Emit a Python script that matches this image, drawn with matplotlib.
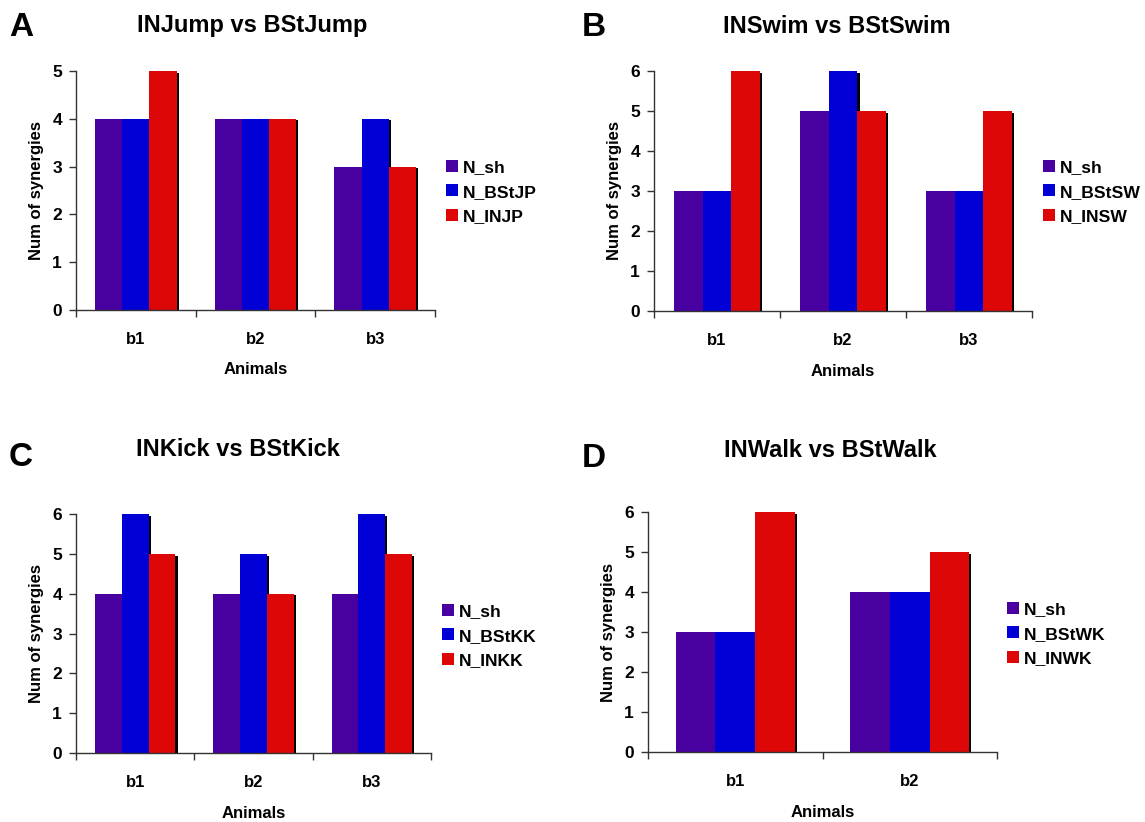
import numpy as np
import matplotlib
matplotlib.use("Agg")
import matplotlib.pyplot as plt
from matplotlib.patches import Patch
import matplotlib.patheffects as pe

plt.rcParams['font.family'] = ['Liberation Sans', 'DejaVu Sans']
plt.rcParams['font.weight'] = 'bold'

# ---- data ----
animals_3 = ["b1", "b2", "b3"]
animals_2 = ["b1", "b2"]

jump_sh = [4, 4, 3]
jump_bst = [4, 4, 4]
jump_in = [5, 4, 3]

swim_sh = [3, 5, 3]
swim_bst = [3, 6, 3]
swim_in = [6, 5, 5]

kick_sh = [4, 4, 4]
kick_bst = [6, 5, 6]
kick_in = [5, 4, 5]

walk_sh = [3, 4]
walk_bst = [3, 4]
walk_in = [6, 5]

series_names = {
    "A": ["N_sh", "N_BStJP", "N_INJP"],
    "B": ["N_sh", "N_BStSW", "N_INSW"],
    "C": ["N_sh", "N_BStKK", "N_INKK"],
    "D": ["N_sh", "N_BStWK", "N_INWK"],
}
titles = {
    "A": "INJump vs BStJump",
    "B": "INSwim vs BStSwim",
    "C": "INKick vs BStKick",
    "D": "INWalk vs BStWalk",
}
ymax = {"A": 5, "B": 6, "C": 6, "D": 6}

colors = ["#4800A0", "#0000D6", "#DE0707"]

W, H = 1145, 822
fig = plt.figure(figsize=(W / 100, H / 100), dpi=100)

def px_rect(l, r, t, b):
    return [l / W, 1 - b / H, (r - l) / W, (b - t) / H]

panels = {
    "A": dict(rect=px_rect(76, 435, 71, 310), cats=animals_3,
              data=[jump_sh, jump_bst, jump_in],
              leg=(446, 192), title=(252, 32), letter=(9, 36)),
    "B": dict(rect=px_rect(654, 1032, 71, 311), cats=animals_3,
              data=[swim_sh, swim_bst, swim_in],
              leg=(1043, 192), title=(837, 33), letter=(582, 36)),
    "C": dict(rect=px_rect(76, 431, 514, 753), cats=animals_3,
              data=[kick_sh, kick_bst, kick_in],
              leg=(442, 636), title=(238, 456), letter=(9, 466)),
    "D": dict(rect=px_rect(648, 997, 512, 752), cats=animals_2,
              data=[walk_sh, walk_bst, walk_in],
              leg=(1007, 634), title=(830, 457), letter=(582, 467)),
}

group_frac = 0.68
shadow = [pe.SimplePatchShadow(offset=(1.6, -1.2), shadow_rgbFace='black', alpha=1.0), pe.Normal()]

for key, p in panels.items():
    ax = fig.add_axes(p["rect"])
    cats = p["cats"]
    n = len(cats)
    x = np.arange(n)
    bw = group_frac / 3
    for i, vals in enumerate(p["data"]):
        ax.bar(x - group_frac / 2 + bw * (i + 0.5), vals, width=bw,
               color=colors[i], edgecolor='none', linewidth=0,
               path_effects=shadow, zorder=2)
    ax.set_xlim(-0.5, n - 0.5)
    ax.set_ylim(0, ymax[key])
    ax.set_yticks(np.arange(ymax[key] + 1))
    ax.set_xticks(np.arange(n + 1) - 0.5)
    ax.set_xticklabels([])
    ax.set_xticks(x, minor=True)
    ax.set_xticklabels(cats, minor=True, fontsize=12, fontweight='bold')
    ax.tick_params(axis='x', which='major', direction='out', length=5, width=1, color='#333333')
    ax.tick_params(axis='x', which='minor', length=0, pad=15.5)
    ax.tick_params(axis='y', direction='out', length=5, width=1, color='#333333', pad=5, labelsize=12.5)
    for lab in ax.get_yticklabels():
        lab.set_fontweight('bold')
    for s in ['top', 'right']:
        ax.spines[s].set_visible(False)
    for s in ['left', 'bottom']:
        ax.spines[s].set_color('#333333')
        ax.spines[s].set_linewidth(1)
    ax.set_xlabel("Animals", fontsize=12, fontweight='bold', labelpad=11.5)
    ax.set_ylabel("Num of synergies", fontsize=12, fontweight='bold', labelpad=6)

    handles = [Patch(facecolor=colors[i], edgecolor='none', label=series_names[key][i]) for i in range(3)]
    lx, ly = p["leg"]
    ax.legend(handles=handles, loc='center left', bbox_to_anchor=(lx / W, 1 - ly / H),
              bbox_transform=fig.transFigure, frameon=False,
              prop={'weight': 'bold', 'size': 12.6},
              handlelength=0.68, handleheight=0.68, handletextpad=0.3,
              labelspacing=0.55, borderpad=0, borderaxespad=0)

    tx, ty = p["title"]
    fig.text(tx / W, 1 - ty / H, titles[key], ha='center', va='baseline',
             fontsize=17, fontweight='bold')
    lx2, ly2 = p["letter"]
    fig.text(lx2 / W, 1 - ly2 / H, key, ha='left', va='baseline',
             fontsize=24, fontweight='bold')

fig.savefig("out.png", dpi=100, facecolor='white')
